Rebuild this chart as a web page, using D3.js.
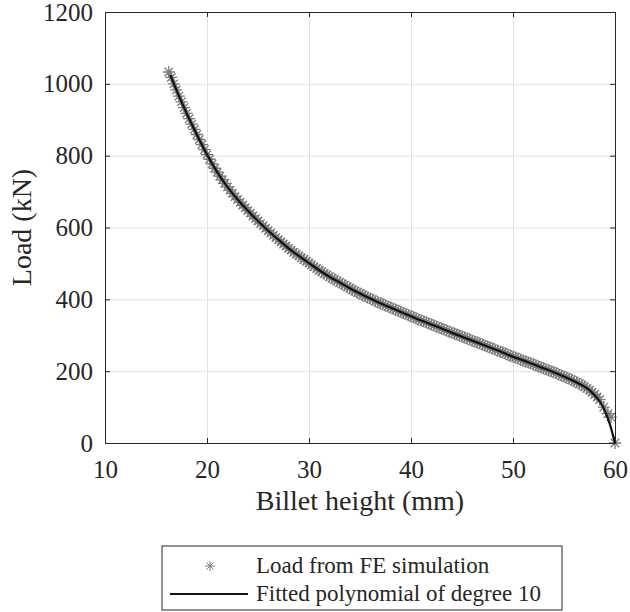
<!DOCTYPE html>
<html>
<head>
<meta charset="utf-8">
<script src="https://cdn.jsdelivr.net/npm/d3@7"></script>
<style>
  body { margin: 0; background: #fff; }
  svg text { fill: #262626; }
</style>
</head>
<body>
<svg></svg>
<script>
var screen = {width: 630, height: 612}
var plot = {left: 105, right: 615, top: 12, bottom: 443}
var serif = "'Liberation Serif', Tinos, 'Times New Roman', Times, 'Nimbus Roman', 'Nimbus Roman No9 L', FreeSerif, 'DejaVu Serif', 'Noto Serif', serif"

// FE simulation points (billet height in mm, load in kN)
var simHeight = [
  16.25,16.5,16.75,17,17.25,17.5,17.75,18,18.25,18.5,18.75,19,19.25,19.5,19.75,20,
  20.25,20.5,20.75,21,21.25,21.5,21.75,22,22.25,22.5,22.75,23,23.25,23.5,23.75,24,
  24.25,24.5,24.75,25,25.25,25.5,25.75,26,26.25,26.5,26.75,27,27.25,27.5,27.75,28,
  28.25,28.5,28.75,29,29.25,29.5,29.75,30,30.25,30.5,30.75,31,31.25,31.5,31.75,32,
  32.25,32.5,32.75,33,33.25,33.5,33.75,34,34.25,34.5,34.75,35,35.25,35.5,35.75,36,
  36.25,36.5,36.75,37,37.25,37.5,37.75,38,38.25,38.5,38.75,39,39.25,39.5,39.75,40,
  40.25,40.5,40.75,41,41.25,41.5,41.75,42,42.25,42.5,42.75,43,43.25,43.5,43.75,44,
  44.25,44.5,44.75,45,45.25,45.5,45.75,46,46.25,46.5,46.75,47,47.25,47.5,47.75,48,
  48.25,48.5,48.75,49,49.25,49.5,49.75,50,50.25,50.5,50.75,51,51.25,51.5,51.75,52,
  52.25,52.5,52.75,53,53.25,53.5,53.75,54,54.25,54.5,54.75,55,55.25,55.5,55.75,56,
  56.25,56.5,56.75,57,57.25,57.5,57.75,58,58.25,58.5,58.9,59.3,59.6,60]
var simLoad = [
  1033,1018,1000,983,966,950,934,918,903,888,873,859,845,831,817,803,
  790,777,765,754,743,733,723,713,704,695,686,678,670,662,655,647,
  640,632,625,618,611,605,598,591,585,578,572,566,560,554,548,542,
  537,531,526,521,516,511,506,501,496,491,486,481,477,472,468,463,
  459,455,451,447,443,439,435,431,427,423,419,416,412,409,405,402,
  399,395,392,389,386,383,380,377,374,371,368,365,362,359,356,353,
  350,347,344,341,338,336,333,330,327,324,321,319,316,313,310,307,
  305,302,299,296,294,291,288,285,282,280,277,274,271,269,266,263,
  260,257,254,252,249,246,243,240,238,235,232,230,227,224,222,219,
  216,213,211,208,205,202,200,197,194,191,188,185,182,179,176,172,
  169,165,161,157,152,147,141,135,128,121,100,82,72,0]

// fitted polynomial (degree 10)
var fitHeight = [16.4,17,18,19,20,21,22,23,24,25,26,27,28,29,30,31,32,33,34,35,36,37,38,39,40,
  41,42,43,44,45,46,47,48,49,50,51,52,53,54,55,56,57,57.5,58,58.5,59,59.5,60]
var fitLoad = [1025,983,918,859,803,754,713,678,647,618,591,566,542,521,501,481,463,447,431,416,402,
  389,377,365,353,341,330,319,307,296,285,274,263,252,240,230,219,208,197,185,172,157,147,133,116,90,52,0]

var xTicks = [10,20,30,40,50,60]
var yTicks = [0,200,400,600,800,1000,1200]
var legendLabels = ["Load from FE simulation", "Fitted polynomial of degree 10"]

var svg = d3.select("svg")
  .attr("width", screen.width)
  .attr("height", screen.height)

var xScale = d3.scaleLinear().domain([10,60]).range([plot.left, plot.right])
var yScale = d3.scaleLinear().domain([0,1200]).range([plot.bottom, plot.top])
var h = plot.bottom - plot.top
var w = plot.right - plot.left

// grid
svg.append("g")
  .attr("class", "grid")
  .attr("transform", "translate(0," + plot.bottom + ")")
  .call(d3.axisBottom(xScale).tickValues(xTicks).tickSize(-h).tickFormat(""))
svg.append("g")
  .attr("class", "grid")
  .attr("transform", "translate(" + plot.left + ",0)")
  .call(d3.axisLeft(yScale).tickValues(yTicks).tickSize(-w).tickFormat(""))
svg.selectAll(".grid .domain").remove()
svg.selectAll(".grid line").attr("stroke", "#e1e1e1").attr("stroke-width", 1)

var starPath = function(r)
{
  var d = r * 0.7
  return "M" + (-r) + ",0H" + r + "M0," + (-r) + "V" + r +
         "M" + (-d) + "," + (-d) + "L" + d + "," + d +
         "M" + (-d) + "," + d + "L" + d + "," + (-d)
}

var simPoints = simHeight.map(function(x, i) { return {x: x, y: simLoad[i]} })
svg.append("g")
  .selectAll("path")
  .data(simPoints)
  .enter()
  .append("path")
  .attr("transform", function(p) { return "translate(" + xScale(p.x) + "," + yScale(p.y) + ")" })
  .attr("d", starPath(6))
  .attr("fill", "none")
  .attr("stroke", "#7a7a7a")
  .attr("stroke-width", 1.3)

var fitPoints = fitHeight.map(function(x, i) { return {x: x, y: fitLoad[i]} })
var line = d3.line()
  .x(function(p) { return xScale(p.x) })
  .y(function(p) { return yScale(p.y) })
  .curve(d3.curveMonotoneX)
svg.append("path")
  .datum(fitPoints)
  .attr("d", line)
  .attr("fill", "none")
  .attr("stroke", "#111")
  .attr("stroke-width", 2.2)

// axes, MATLAB style box with inward ticks
svg.append("g")
  .attr("class", "axis")
  .attr("transform", "translate(0," + plot.bottom + ")")
  .call(d3.axisBottom(xScale).tickValues(xTicks).tickFormat(d3.format("d"))
    .tickSizeInner(-5).tickSizeOuter(0).tickPadding(17))
svg.append("g")
  .attr("class", "axis")
  .attr("transform", "translate(" + plot.left + ",0)")
  .call(d3.axisLeft(yScale).tickValues(yTicks).tickFormat(d3.format("d"))
    .tickSizeInner(-5).tickSizeOuter(0).tickPadding(12))
svg.append("g")
  .attr("class", "axis")
  .attr("transform", "translate(0," + plot.top + ")")
  .call(d3.axisTop(xScale).tickValues(xTicks).tickSizeInner(-5).tickSizeOuter(0).tickFormat(""))
svg.append("g")
  .attr("class", "axis")
  .attr("transform", "translate(" + plot.right + ",0)")
  .call(d3.axisRight(yScale).tickValues(yTicks).tickSizeInner(-5).tickSizeOuter(0).tickFormat(""))
svg.selectAll(".axis").attr("font-family", null)
svg.selectAll(".axis path, .axis line").attr("stroke", "#262626").attr("stroke-width", 1)
svg.selectAll(".axis text")
  .style("font-family", serif)
  .attr("font-size", 25)
  .attr("fill", "#262626")

svg.append("text")
  .attr("x", (plot.left + plot.right) / 2)
  .attr("y", 510)
  .attr("text-anchor", "middle")
  .style("font-family", serif)
  .attr("font-size", 28)
  .text("Billet height (mm)")
svg.append("text")
  .attr("transform", "translate(31," + (plot.top + plot.bottom) / 2 + ") rotate(-90)")
  .attr("text-anchor", "middle")
  .style("font-family", serif)
  .attr("font-size", 28)
  .text("Load (kN)")

// legend
var legend = svg.append("g")
legend.append("rect")
  .attr("x", 162).attr("y", 546)
  .attr("width", 400).attr("height", 64)
  .attr("fill", "#fff")
  .attr("stroke", "#262626")
  .attr("stroke-width", 1)
legend.append("path")
  .attr("transform", "translate(210,566)")
  .attr("d", starPath(5))
  .attr("fill", "none")
  .attr("stroke", "#7a7a7a")
legend.append("line")
  .attr("x1", 170).attr("x2", 248)
  .attr("y1", 594).attr("y2", 594)
  .attr("stroke", "#111")
  .attr("stroke-width", 2)
legend.selectAll("text")
  .data(legendLabels)
  .enter()
  .append("text")
  .attr("x", 256)
  .attr("y", function(d, i) { return 573 + i * 28 })
  .style("font-family", serif)
  .attr("font-size", 23)
  .text(function(d) { return d })
</script>
</body>
</html>
